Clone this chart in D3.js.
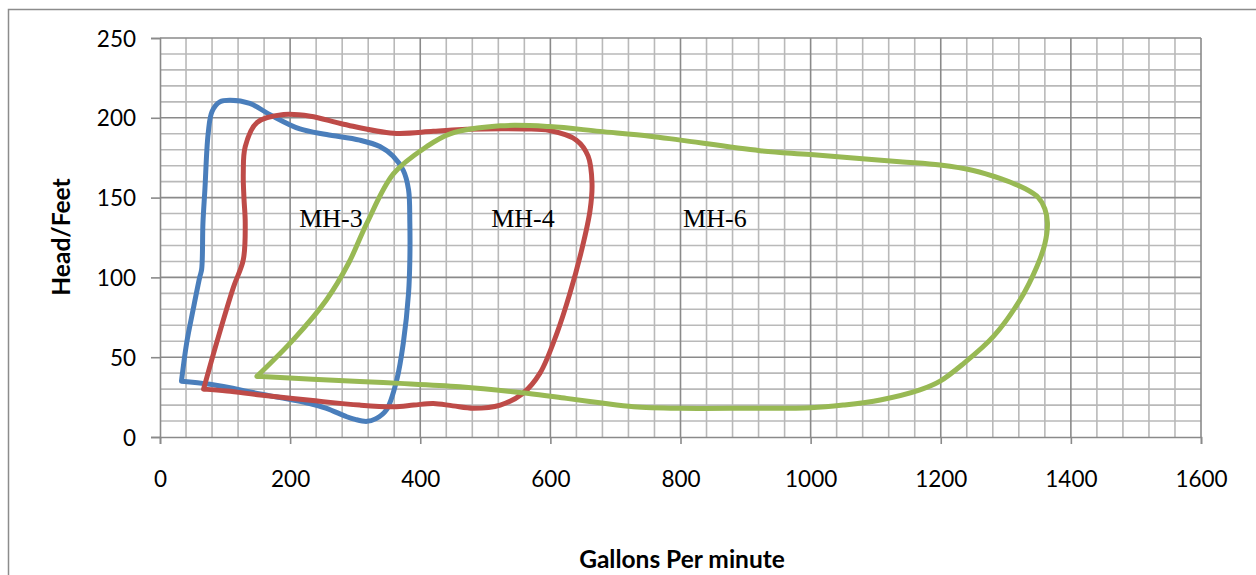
<!DOCTYPE html>
<html><head><meta charset="utf-8">
<script src="https://cdn.jsdelivr.net/npm/d3@7"></script>
<style>html,body{margin:0;padding:0;background:#fff;}svg{display:block;}</style>
</head><body>
<svg id="chart" width="1256" height="575"></svg>
<script>
// ---- data ----
const xTicks = [0,200,400,600,800,1000,1200,1400,1600];
const yTicks = [0,50,100,150,200,250];
const seriesNames = ["MH-3","MH-4","MH-6"];
const seriesColors = ["#4A7EBB","#BE4B48","#98B954"];
const mh3 = [[33,35],[41,59],[51,80],[61,100],[64,105],[66,134],[69,155],[74,190],[80,204],[92,210],[108,211],[138,209],[169,202],[215,193],[256,189.5],[307,186],[338,182],[358,176],[374,167],[382,155],[384,134],[384,111],[382,90],[374,59],[364,36],[348,17],[332,11.5],[318,9.8],[300,11],[287,12.7],[256,18],[230,21],[154,27],[77,33],[33,35]];
const mh4 = [[67,30],[87,59],[113,94],[128,111],[131,134],[129,150],[128,165],[131,182],[149,197],[190,202],[231,201],[282,196],[359,190.3],[420,191.5],[471,192.8],[560,193],[599,192],[640,186],[658,176],[664,159],[661,142],[648,117],[630,90],[610,65],[584,40],[558,27.4],[523,20],[482,18],[450,19.5],[420,21],[390,20],[359,19],[307,20],[231,23],[154,26.3],[103,28.8],[67,30]];
const mh6 = [[149,38],[205,61],[256,86],[290,109],[318,134],[359,165],[410,182],[446,190],[523,195],[599,194.5],[676,191.5],[753,188.5],[800,186],[922,179.4],[1000,177],[1137,172.5],[1199,170.4],[1250,167],[1291,162],[1330,155.5],[1350,150],[1360,143],[1364,134],[1360,121],[1348,107],[1322,86],[1281,63],[1235,46],[1199,35],[1168,29.5],[1107,23.2],[1050,20],[1000,18.3],[900,18],[800,18],[728,19],[676,21.5],[625,24.2],[564,27.4],[461,31.5],[369,33.6],[307,34.7],[149,38]];
const seriesData = [mh3, mh4, mh6];
const labelPos = [[214,131.6],[509,131.6],[804,131.6]];
const xTitle = "Gallons Per minute";
const yTitle = "Head/Feet";

// ---- layout ----
const svg = d3.select("#chart");
const L = 160, R = 1201, T = 38, B = 437;
const x = d3.scaleLinear().domain([0,1600]).range([L,R]);
const y = d3.scaleLinear().domain([0,250]).range([B,T]);

// outer chart border
svg.append("rect").attr("x",8.5).attr("y",9.5).attr("width",1300).attr("height",620)
  .attr("fill","none").attr("stroke","#8c8c8c").attr("stroke-width",1.5);

const grid = svg.append("g");
// minor grid
const xMinor = d3.range(0,1601,40).filter(v=>v%200!==0);
const yMinor = d3.range(0,251,10).filter(v=>v%50!==0);
grid.selectAll(".vx").data(xMinor).join("line")
  .attr("x1",d=>x(d)).attr("x2",d=>x(d)).attr("y1",T).attr("y2",B)
  .attr("stroke","#b9b9b9").attr("stroke-width",1.6);
grid.selectAll(".hy").data(yMinor).join("line")
  .attr("y1",d=>y(d)).attr("y2",d=>y(d)).attr("x1",L).attr("x2",R)
  .attr("stroke","#b9b9b9").attr("stroke-width",1.6);
// major grid
grid.selectAll(".VX").data(xTicks.slice(1)).join("line")
  .attr("x1",d=>x(d)).attr("x2",d=>x(d)).attr("y1",T).attr("y2",B)
  .attr("stroke","#8a8a8a").attr("stroke-width",1.6);
grid.selectAll(".HY").data(yTicks.slice(1)).join("line")
  .attr("y1",d=>y(d)).attr("y2",d=>y(d)).attr("x1",L).attr("x2",R)
  .attr("stroke","#8a8a8a").attr("stroke-width",1.6);

// axes
const xAxis = d3.axisBottom(x).tickValues(xTicks).tickSize(7).tickPadding(27).tickFormat(d3.format("d"));
const yAxis = d3.axisLeft(y).tickValues(yTicks).tickSize(9).tickPadding(15).tickFormat(d3.format("d"));
const gx = svg.append("g").attr("transform",`translate(0,${B})`).call(xAxis);
const gy = svg.append("g").attr("transform",`translate(${L},0)`).call(yAxis);
[gx,gy].forEach(g=>{
  g.select(".domain").attr("stroke","#8a8a8a").attr("stroke-width",1.6);
  g.selectAll(".tick line").attr("stroke","#8a8a8a").attr("stroke-width",1.6);
  g.selectAll(".tick text").attr("font-family","Lato, sans-serif").attr("font-size",22.5).attr("fill","#000");
});
gx.selectAll(".tick text").attr("dy","0.71em");
gy.selectAll(".tick text").attr("dy","0.36em");

// series
const line = d3.line().x(d=>x(d[0])).y(d=>y(d[1])).curve(d3.curveCatmullRom.alpha(0.5));
svg.append("g").selectAll("path").data(seriesData).join("path")
  .attr("d",line).attr("fill","none")
  .attr("stroke",(d,i)=>seriesColors[i]).attr("stroke-width",5)
  .attr("stroke-linejoin","round").attr("stroke-linecap","round");

// labels
svg.append("g").selectAll("text").data(seriesNames).join("text")
  .attr("x",(d,i)=>x(labelPos[i][0])).attr("y",(d,i)=>y(labelPos[i][1]))
  .attr("font-family","'Liberation Serif', 'Times New Roman', serif").attr("font-size",26)
  .attr("fill","#000").text(d=>d);

// axis titles
svg.append("text").attr("x",682).attr("y",568).attr("text-anchor","middle")
  .attr("font-family","Lato, sans-serif").attr("font-weight","bold").attr("font-size",24.5)
  .attr("fill","#000").text(xTitle);
svg.append("text").attr("transform","translate(70,237) rotate(-90)").attr("text-anchor","middle")
  .attr("font-family","Lato, sans-serif").attr("font-weight","bold").attr("font-size",24.5)
  .attr("fill","#000").text(yTitle);
</script>
</body></html>
